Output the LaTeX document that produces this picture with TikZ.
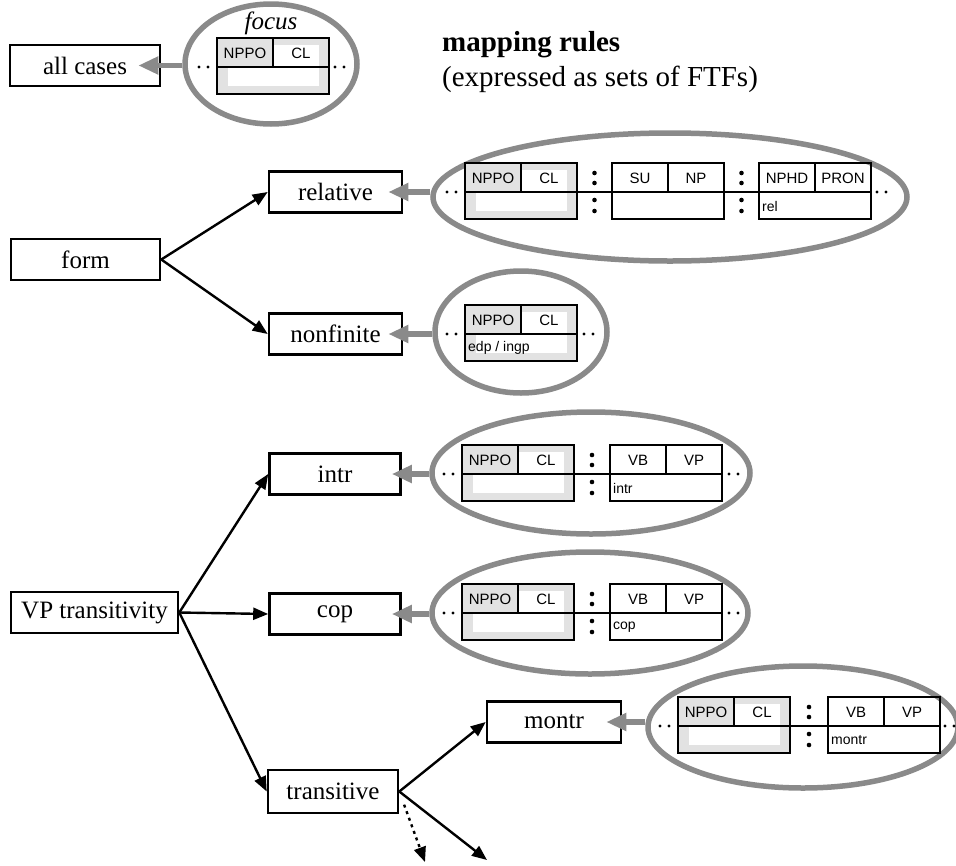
\documentclass[tikz,border=0pt]{standalone}
\usepackage{fontspec}
\setmainfont{Liberation Serif}
\setsansfont{Liberation Sans}
\usetikzlibrary{arrows.meta,shapes.geometric}
\definecolor{rulegray}{HTML}{8A8A8A}
\definecolor{focusgray}{HTML}{E2E2E2}

\tikzset{
  cat/.style={draw,line width=2.6pt,minimum height=41pt,inner sep=0pt,font=\fontsize{25}{30}\selectfont},
  ruleset/.style={ellipse,draw=rulegray,line width=5.5pt,inner sep=0pt},
  branch/.style={line width=2.4pt,-{Triangle[length=15pt,width=12pt]}},
  realize/.style={draw=rulegray,line width=5.5pt,-{Triangle[length=20pt,width=17pt]}},
  cell/.style={font=\sffamily\fontsize{15}{18}\selectfont,inner sep=0pt},
  celltext/.style={font=\sffamily\fontsize{14}{16}\selectfont,inner sep=0pt},
}

% one FTF: name, top left corner, the two head labels, lower text
\newcommand{\ftf}[6]{%
  \draw[line width=2pt] (#2,#3) rectangle ++(112,56);
  \draw[line width=2pt] (#2,#3+29) -- ++(112,0) (#2+56,#3) -- ++(0,29);
  \node[cell] (#1-l) at (#2+28,#3+15) {#4};
  \node[cell] (#1-r) at (#2+84,#3+15) {#5};
  \node[celltext,anchor=west] (#1-b) at (#2+3,#3+43) {#6};
}
% light frame behind the focus FTF
\newcommand{\focusbg}[2]{%
  \fill[focusgray] (#1+1,#2+1) rectangle ++(110,54);
  \fill[white] (#1+11,#2+7) rectangle ++(91,41);
  \fill[focusgray] (#1+1,#2+1) rectangle ++(55,28);
}
% colon and link between two FTFs
\newcommand{\ftfsep}[3]{%
  \draw[line width=2pt] (#1,#3+29) -- (#2,#3+29);
  \foreach \dy in {10,20,37,48} \fill ({(#1+#2)/2},#3+\dy) circle (2.3pt);
}
\newcommand{\leaddots}[2]{\fill (#1,#2) circle (1.6pt) (#1+9,#2) circle (1.6pt);}

\begin{document}
\begin{tikzpicture}[x=1pt,y=-1pt]
\useasboundingbox (0,0) rectangle (956,865);

% categories
\node[cat,minimum width=150pt] (allc) at (85,65.5) {all cases};
\node[cat,minimum width=149pt] (form) at (85.5,259.5) {form};
\node[cat,minimum width=133pt] (rel) at (335.5,192) {relative};
\node[cat,minimum width=133pt] (nonf) at (335.5,334) {nonfinite};
\node[cat,minimum width=167pt] (vpt) at (94.5,612.5) {VP transitivity};
\node[cat,minimum width=131pt] (intr) at (335,474) {intr};
\node[cat,minimum width=131pt] (cop) at (335,614) {cop};
\node[cat,minimum width=130pt,minimum height=43pt] (trans) at (333,791.5) {transitive};
\node[cat,minimum width=134pt] (montr) at (554,722) {montr};

\node[anchor=north west,align=left,inner sep=0pt,font=\fontsize{29}{35}\selectfont] (title) at (442,31)
  {\textbf{mapping rules}\\(expressed as sets of FTFs)};

% rule sets
\node[ruleset,minimum width=172pt,minimum height=120pt] (focE) at (271,64) {};
\node[ruleset,minimum width=474pt,minimum height=128pt] (relE) at (670,197) {};
\node[ruleset,minimum width=172pt,minimum height=122pt] (nonE) at (521,332) {};
\node[ruleset,minimum width=318pt,minimum height=122pt] (intE) at (591,473) {};
\node[ruleset,minimum width=316pt,minimum height=122pt] (copE) at (590,613) {};
\node[ruleset,minimum width=310pt,minimum height=122pt] (monE) at (803,727) {};

\node[font=\itshape\fontsize{25}{30}\selectfont,inner sep=0pt] (foc) at (271,23) {focus};
\focusbg{217}{38}
\ftf{f0}{217}{38}{NPPO}{CL}{}
\leaddots{199}{67} \leaddots{335}{67}

\focusbg{465}{163}
\ftf{r1}{465}{163}{NPPO}{CL}{}
\ftf{r2}{612}{163}{SU}{NP}{}
\ftf{r3}{759}{163}{NPHD}{PRON}{rel}
\ftfsep{577}{612}{163} \ftfsep{724}{759}{163}
\leaddots{447}{192} \leaddots{877}{192}

\focusbg{465}{305}
\ftf{n1}{465}{305}{NPPO}{CL}{edp / ingp}
\leaddots{447}{334} \leaddots{584}{334}

\focusbg{462}{445}
\ftf{i1}{462}{445}{NPPO}{CL}{}
\ftf{i2}{610}{445}{VB}{VP}{intr}
\ftfsep{574}{610}{445}
\leaddots{444}{474} \leaddots{729}{474}

\focusbg{462}{584}
\ftf{c1}{462}{584}{NPPO}{CL}{}
\ftf{c2}{610}{584}{VB}{VP}{cop}
\ftfsep{574}{610}{584}
\leaddots{444}{613} \leaddots{729}{613}

\focusbg{678}{697}
\ftf{m1}{678}{697}{NPPO}{CL}{}
\ftf{m2}{828}{697}{VB}{VP}{montr}
\ftfsep{790}{828}{697}
\leaddots{660}{726} \leaddots{945}{726}

% mapping arrows
\draw[realize] (focE.west |- allc.east) -- ([xshift=-23pt]allc.east);
\draw[realize] (relE.west |- rel.east) -- ([xshift=-15pt]rel.east);
\draw[realize] (nonE.west |- nonf.east) -- ([xshift=-15pt]nonf.east);
\draw[realize] (intE.west |- intr.east) -- ([xshift=-10pt]intr.east);
\draw[realize] (copE.west |- cop.east) -- ([xshift=-10pt]cop.east);
\draw[realize] (monE.west |- montr.east) -- ([xshift=-16pt]montr.east);

% hierarchy
\draw[branch] (form.east) -- (rel.west);
\draw[branch] (form.east) -- (nonf.west);
\draw[branch] (vpt.east) -- (intr.west);
\draw[branch] (vpt.east) -- (cop.west);
\draw[branch] (vpt.east) -- (trans.west);
\draw[branch] (trans.east) -- (montr.west);
\coordinate (more) at (487,860);
\coordinate (moredots) at (425,862);
\draw[branch] (trans.east) -- (more);
\draw[branch,dash pattern=on 3pt off 4pt,shorten <=14pt] (trans.east) -- (moredots);
\end{tikzpicture}
\end{document}
